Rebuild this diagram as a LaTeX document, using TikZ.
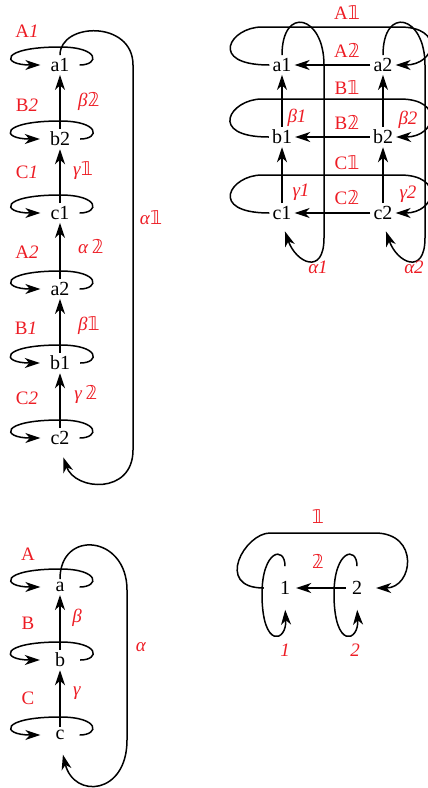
\documentclass[tikz,border=0pt]{standalone}
\usepackage{fontspec}
\setmainfont{Liberation Serif}
\newfontfamily\dsfam{DejaVu Sans}
\newcommand{\dsone}{{\dsfam 𝟙}}
\newcommand{\dstwo}{{\dsfam 𝟚}}
\usetikzlibrary{arrows.meta,calc}
\definecolor{qred}{RGB}{237,28,36}

\begin{document}
\begin{tikzpicture}[x=1pt,y=-1pt,
  vtx/.style={font=\fontsize{20}{20}\selectfont,inner xsep=10pt,inner ysep=3pt},
  vtxb/.style={vtx,inner xsep=15pt},
  vtxr/.style={vtx,inner xsep=3pt},
  vtxs/.style={vtx,inner xsep=6pt,inner ysep=11pt},
  lbl/.style={font=\fontsize{19}{19}\selectfont,text=qred,inner sep=1pt},
  arr/.style={-{Stealth[length=15pt,width=10pt,inset=4.5pt]},line width=1.5pt}
]
  \useasboundingbox (0,0) rectangle (428,788);
  \clip (0,0) rectangle (428,788);
  % Left chain
  \node[vtx] (a1) at (60,65) {a1};
  \node[vtx] (b2) at (60,139) {b2};
  \node[vtx] (c1) at (60,213) {c1};
  \node[vtx] (a2) at (60,289) {a2};
  \node[vtx] (b1) at (60,363) {b1};
  \node[vtx] (c2) at (60,438) {c2};
  \draw[arr] (b2) -- (a1);
  \draw[arr] (c1) -- (b2);
  \draw[arr] (a2) -- (c1);
  \draw[arr] (b1) -- (a2);
  \draw[arr] (c2) -- (b1);
  \draw[arr,shorten >=10pt] (a1.north) .. controls +(0,-33) and +(0,-45) .. (133,65)
    -- (133,450) .. controls +(0,45) and +(15,43) .. (c2.south);
  \node[lbl] (lA1) at (27,31) {A\textit{1}};
  \node[lbl] (lbe2) at (89,101) {\textit{β}\dstwo};
  \node[lbl] (lB2) at (27,105) {B\textit{2}};
  \node[lbl] (lga1) at (83,171) {\textit{γ}\dsone};
  \node[lbl] (lC1) at (27,172) {C\textit{1}};
  \node[lbl] (lal2) at (91,247) {\textit{α}\,\dstwo};
  \node[lbl] (lA2) at (27,252) {A\textit{2}};
  \node[lbl] (lbe1) at (89,326) {\textit{β}\dsone};
  \node[lbl] (lB1) at (26,328) {B\textit{1}};
  \node[lbl] (lga2) at (86,394) {\textit{γ}\,\dstwo};
  \node[lbl] (lC2) at (27,398) {C\textit{2}};
  \node[lbl] (lal1) at (151,218) {\textit{α}\dsone};
  % Right grid
  \node[vtxr] (ra1) at (282,65) {a1};
  \node[vtxr] (ra2) at (383,65) {a2};
  \node[vtxr] (rb1) at (282,137) {b1};
  \node[vtxr] (rb2) at (383,137) {b2};
  \node[vtxr] (rc1) at (282,213) {c1};
  \node[vtxr] (rc2) at (383,213) {c2};
  \foreach \t/\b in {ra1/rc1,ra2/rc2}
    \draw[arr,shorten >=9pt] (\t.north) .. controls +(0,-50) and +(0,-50) .. ($(\t)+(42,0)$)
      -- ($(\b)+(42,25)$) .. controls +(0,38) and +(14,40) .. (\b.south);
  \foreach \l/\r in {ra1/ra2,rb1/rb2,rc1/rc2}
    \draw[arr] (\l.west) .. controls +(-62,0) and +(-32,0) .. ($(\l)+(-20,-38)$)
      -- ($(\r)+(17,-38)$) .. controls +(45,0) and +(40,0) .. (\r.east);
  \draw[arr] (ra2) -- (ra1);
  \draw[arr] (rb2) -- (rb1);
  \draw[arr] (rc2) -- (rc1);
  \draw[arr] (rb1) -- (ra1);
  \draw[arr] (rc1) -- (rb1);
  \draw[arr] (rb2) -- (ra2);
  \draw[arr] (rc2) -- (rb2);
  \node[lbl] (rA1) at (347,13) {A\dsone};
  \node[lbl] (rA2) at (347,50) {A\dstwo};
  \node[lbl] (rB1) at (347,88) {B\dsone};
  \node[lbl] (rB2) at (347,122) {B\dstwo};
  \node[lbl] (rC1) at (347,163) {C\dsone};
  \node[lbl] (rC2) at (347,198) {C\dstwo};
  \node[lbl] (rbe1) at (297,118) {\textit{β1}};
  \node[lbl] (rga1) at (301,192) {\textit{γ1}};
  \node[lbl] (rbe2) at (408,120) {\textit{β2}};
  \node[lbl] (rga2) at (408,194) {\textit{γ2}};
  \node[lbl] (ral1) at (318,267) {\textit{α1}};
  \node[lbl] (ral2) at (414,267) {\textit{α2}};
  % Bottom chain
  \node[vtxb] (a) at (60,587) {a};
  \node[vtxb] (b) at (60,660) {b};
  \node[vtxb] (c) at (60,735) {c};
  \draw[arr] (b) -- (a);
  \draw[arr] (c) -- (b);
  \draw[arr,shorten >=12pt] (a.north) .. controls +(0,-50) and +(0,-55) .. (127,590)
    -- (127,740) .. controls +(0,55) and +(14,56) .. (c.south);
  \node[lbl] (bA) at (28,554) {A};
  \node[lbl] (bbe) at (77,618) {\textit{β}};
  \node[lbl] (bB) at (28,623) {B};
  \node[lbl] (bga) at (77,693) {\textit{γ}};
  \node[lbl] (bC) at (28,698) {C};
  \node[lbl] (bal) at (141,647) {\textit{α}};
  % self loops of the chains
  \foreach \n in {a1,b2,c1,a2,b1,c2,a,b,c}
    \draw[arr] (\n.east) .. controls +(20,0) and +(40,0) .. ($(\n)+(0,-18)$)
      .. controls +(-60,0) and +(-40,0) .. (\n.west);
  % Two vertices
  \node[vtxs] (n1) at (285,588) {1};
  \node[vtxs] (n2) at (357,588) {2};
  \draw[arr] (n2) -- (n1);
  \foreach \n in {n1,n2}
    \draw[arr,shorten <=4pt,shorten >=4pt] (\n.north) .. controls +(0,-25) and +(0,-44) .. ($(\n)+(-23,6)$)
      .. controls +(0,56) and +(2,36) .. (\n.south);
  \draw[arr,shorten <=10pt,shorten >=8pt] (n1.west) .. controls +(-60,0) and +(-25,0) .. ($(n1)+(-15,-55)$)
    -- ($(n2)+(18,-55)$) .. controls +(45,0) and +(45,0) .. (n2.east);
  \node[lbl] (d1) at (318,517) {\dsone};
  \node[lbl] (d2) at (318,561) {\dstwo};
  \node[lbl] (i1) at (285,650) {\textit{1}};
  \node[lbl] (i2) at (355,650) {\textit{2}};
\end{tikzpicture}
\end{document}
